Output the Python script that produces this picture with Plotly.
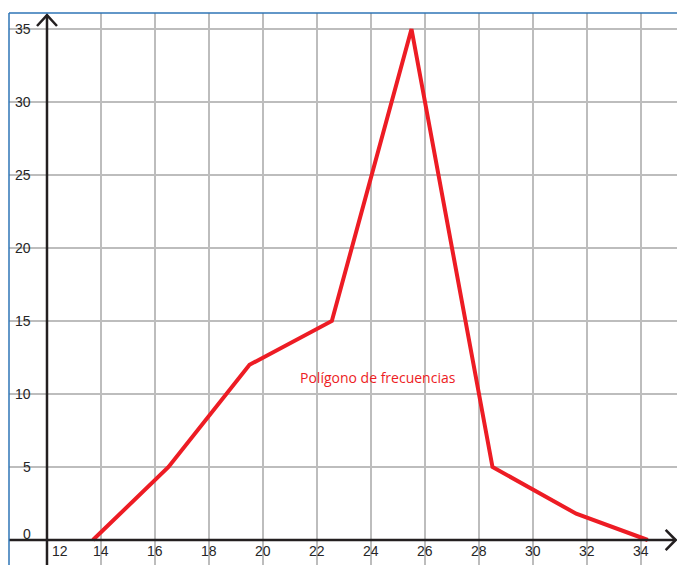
import plotly.graph_objects as go

# Frequency polygon data (class marks vs frequency)
x_marks = [13.7, 16.5, 19.5, 22.55, 25.5, 28.5, 31.6, 34.25]
freqs = [0, 5, 12, 15, 35, 5, 1.8, 0]

x_tick_vals = [12, 14, 16, 18, 20, 22, 24, 26, 28, 30, 32, 34]
x_tick_text = [str(v) for v in x_tick_vals]
y_tick_vals = [0, 5, 10, 15, 20, 25, 30, 35]
y_tick_text = [str(v) for v in y_tick_vals]

series_label = "Polígono de frecuencias"

X_RANGE = [10.593, 35.333]
Y_RANGE = [-1.712, 36.096]
AX_X = 12
AX_Y = 0
AXIS_COLOR = "#231f20"
RED = "#ed1c24"
TICK_FONT = dict(family="Liberation Sans, Arial, sans-serif", size=14, color="#262626")

fig = go.Figure()
fig.add_trace(go.Scatter(x=x_marks, y=freqs, mode="lines",
                         line=dict(color=RED, width=4), hoverinfo="skip",
                         showlegend=False))

shapes = []
# axes lines
shapes.append(dict(type="line", xref="x", yref="paper", x0=AX_X, x1=AX_X, y0=0,
                   y1=1 - 0.0039, line=dict(color=AXIS_COLOR, width=2.5), layer="above"))
shapes.append(dict(type="line", xref="paper", yref="y", x0=0, x1=1 - 0.0015, y0=AX_Y, y1=AX_Y,
                   line=dict(color=AXIS_COLOR, width=2.5), layer="above"))
# arrowheads
ytip = Y_RANGE[1] - 0.14
shapes.append(dict(type="path", xref="x", yref="y",
                   path=f"M {AX_X-0.37},{ytip-0.75} L {AX_X},{ytip} L {AX_X+0.37},{ytip-0.75}",
                   line=dict(color=AXIS_COLOR, width=2.5), layer="above"))
xtip = X_RANGE[1] - 0.05
shapes.append(dict(type="path", xref="x", yref="y",
                   path=f"M {xtip-0.37},{AX_Y+0.69} L {xtip},{AX_Y} L {xtip-0.37},{AX_Y-0.69}",
                   line=dict(color=AXIS_COLOR, width=2.5), layer="above"))
# blue frame lines (left and top)
shapes.append(dict(type="line", xref="paper", yref="paper", x0=0, x1=0, y0=0, y1=1,
                   line=dict(color="#2e75b6", width=1.5)))
shapes.append(dict(type="line", xref="paper", yref="paper", x0=0, x1=1, y0=1, y1=1,
                   line=dict(color="#2e75b6", width=1.5)))

annotations = []
for v, t in zip(y_tick_vals, y_tick_text):
    annotations.append(dict(x=11.48, y=v, xref="x", yref="y", text=t, showarrow=False,
                            xanchor="right", yanchor="middle", font=TICK_FONT,
                            yshift=6 if v == 0 else 0))
for v, t in zip(x_tick_vals, x_tick_text):
    annotations.append(dict(x=v, y=-0.75, xref="x", yref="y", text=t, showarrow=False,
                            xanchor="center", yanchor="middle", font=TICK_FONT,
                            xshift=13 if v == 12 else 0))
annotations.append(dict(x=24.26, y=11.16, xref="x", yref="y", text=series_label,
                        showarrow=False, xanchor="center", yanchor="middle",
                        font=dict(family="Open Sans, sans-serif", size=14, color=RED)))

fig.update_layout(
    width=677, height=565,
    margin=dict(l=9, r=0, t=13, b=0),
    paper_bgcolor="white", plot_bgcolor="white",
    shapes=shapes, annotations=annotations,
    xaxis=dict(range=X_RANGE, tickvals=x_tick_vals, showticklabels=False,
               showgrid=True, gridcolor="#bdbdbd", gridwidth=1.6,
               zeroline=False, showline=False, fixedrange=True),
    yaxis=dict(range=Y_RANGE, tickvals=y_tick_vals, showticklabels=False,
               showgrid=True, gridcolor="#bdbdbd", gridwidth=1.6,
               zeroline=False, showline=False, fixedrange=True),
)

fig.write_html(
    "out.html",
    config={"displayModeBar": False},
    post_script="document.body.style.margin='0';document.body.style.overflow='hidden';"
                "document.documentElement.style.overflow='hidden';",
)
